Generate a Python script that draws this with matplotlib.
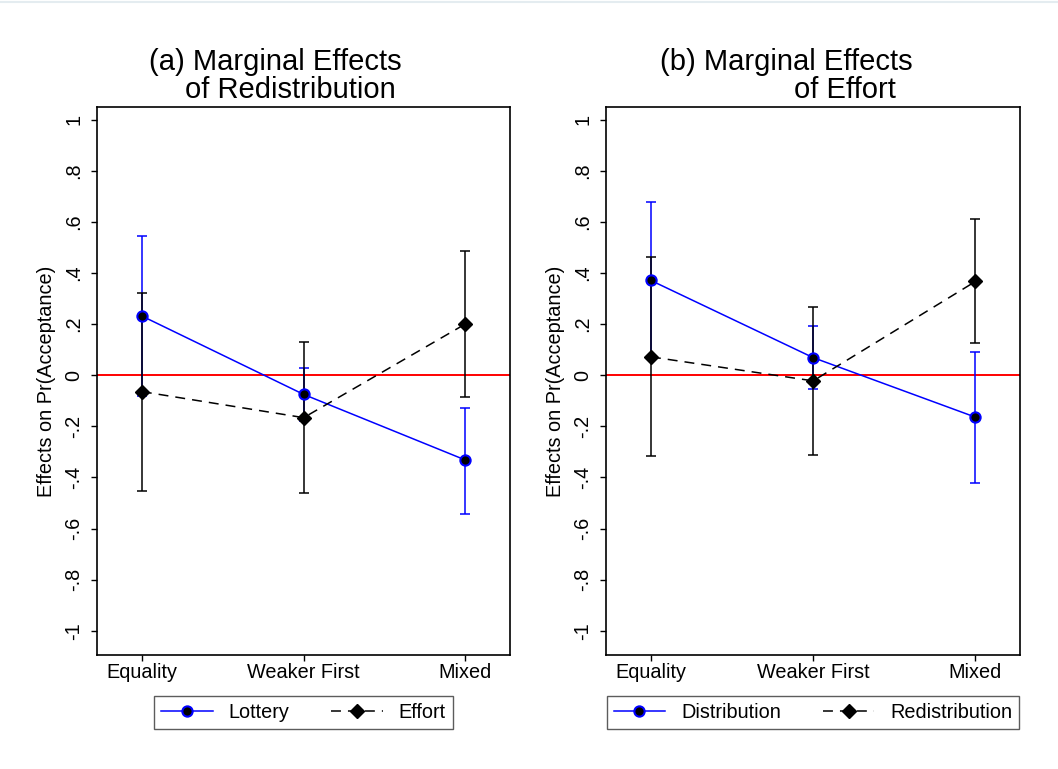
import matplotlib
matplotlib.use("Agg")
import matplotlib.pyplot as plt
from matplotlib.lines import Line2D
import numpy as np

plt.rcParams['font.family'] = ['Liberation Sans', 'DejaVu Sans']

categories = ["Equality", "Weaker First", "Mixed"]
ytick_vals = [-1, -0.8, -0.6, -0.4, -0.2, 0, 0.2, 0.4, 0.6, 0.8, 1]
ytick_labels = ["-1", "-.8", "-.6", "-.4", "-.2", "0", ".2", ".4", ".6", ".8", "1"]

# Panel (a): marginal effects of redistribution
a_lottery = [0.232, -0.075, -0.332]
a_lottery_lo = [-0.083, -0.180, -0.543]
a_lottery_hi = [0.544, 0.030, -0.127]
a_effort = [-0.064, -0.166, 0.201]
a_effort_lo = [-0.454, -0.462, -0.084]
a_effort_hi = [0.320, 0.130, 0.488]

# Panel (b): marginal effects of effort
b_distribution = [0.371, 0.069, -0.164]
b_distribution_lo = [0.062, -0.055, -0.420]
b_distribution_hi = [0.680, 0.194, 0.090]
b_redistribution = [0.072, -0.022, 0.367]
b_redistribution_lo = [-0.315, -0.311, 0.125]
b_redistribution_hi = [0.463, 0.267, 0.613]

W, H = 1058, 769
fig = plt.figure(figsize=(W / 100, H / 100), dpi=100)
fig.patch.set_facecolor('white')

# faint top border line
fig.add_artist(Line2D([0, 1], [1 - 2 / H, 1 - 2 / H], transform=fig.transFigure,
                      color='#e4ecf0', lw=1.5))

def px_axes(x0, x1, y0, y1):
    return fig.add_axes([x0 / W, 1 - y1 / H, (x1 - x0) / W, (y1 - y0) / H])

BLUE = '#0000ff'
LW = 1.1
DASH = (0, (6.5, 4.6))
FS = 14.3

def panel(ax, s1, s1lo, s1hi, s2, s2lo, s2hi, lab1, lab2):
    x = np.arange(1, len(categories) + 1)
    ax.axhline(0, color='#ff0000', lw=1.4, zorder=1)
    s1 = np.array(s1); s2 = np.array(s2)
    ax.errorbar(x, s1, yerr=[s1 - np.array(s1lo), np.array(s1hi) - s1], fmt='none',
                ecolor=BLUE, elinewidth=LW, capsize=3.8, capthick=LW, zorder=2)
    ax.errorbar(x, s2, yerr=[s2 - np.array(s2lo), np.array(s2hi) - s2], fmt='none',
                ecolor='black', elinewidth=LW, capsize=3.8, capthick=LW, zorder=3)
    ax.plot(x, s1, color=BLUE, lw=LW, marker='o', ms=7.4, mfc='black', mec=BLUE,
            mew=1.5, zorder=4)
    ax.plot(x, s2, color='black', lw=LW, ls=DASH, marker='D', ms=7.3, mfc='black',
            mec='black', zorder=5)
    ax.set_xlim(0.723, 3.275)
    ax.set_ylim(-1.095, 1.05)
    ax.set_xticks(x)
    ax.set_xticklabels(categories, fontsize=FS)
    ax.set_yticks(ytick_vals)
    ax.set_yticklabels(ytick_labels, fontsize=FS, rotation=90, va='center')
    ax.tick_params(axis='both', direction='out', length=4, width=1.0, color='black')
    ax.tick_params(axis='y', pad=6)
    ax.tick_params(axis='x', pad=1.5)
    for sp in ax.spines.values():
        sp.set_linewidth(1.2)
        sp.set_color('black')
    ax.set_ylabel("Effects on Pr(Acceptance)", fontsize=FS, labelpad=6)
    h1 = Line2D([], [], color=BLUE, lw=LW, marker='o', ms=7.4, mfc='black', mec=BLUE, mew=1.5)
    h2 = Line2D([], [], color='black', lw=LW, ls=DASH, marker='D', ms=7.3, mfc='black')
    leg = ax.legend([h1, h2], [lab1, lab2], loc='center', ncol=2,
                    bbox_to_anchor=(0.5, -0.105), bbox_transform=ax.transAxes,
                    fontsize=FS, frameon=True, fancybox=False, edgecolor='#333333',
                    handlelength=2.6, handletextpad=0.8, columnspacing=2.1,
                    borderpad=0.35, borderaxespad=0)
    leg.get_frame().set_linewidth(1.0)

ax1 = px_axes(97, 510, 107, 655)
panel(ax1, a_lottery, a_lottery_lo, a_lottery_hi, a_effort, a_effort_lo, a_effort_hi,
      "Lottery", "Effort")
ax2 = px_axes(606, 1020, 107, 655)
panel(ax2, b_distribution, b_distribution_lo, b_distribution_hi,
      b_redistribution, b_redistribution_lo, b_redistribution_hi,
      "Distribution", "Redistribution")

TFS = 21
fig.text(275 / W, 1 - 70 / H, "(a) Marginal Effects", fontsize=TFS, ha='center', va='baseline')
fig.text(290.5 / W, 1 - 98 / H, "of Redistribution", fontsize=TFS, ha='center', va='baseline')
fig.text(786.5 / W, 1 - 70 / H, "(b) Marginal Effects", fontsize=TFS, ha='center', va='baseline')
fig.text(845 / W, 1 - 98 / H, "of Effort", fontsize=TFS, ha='center', va='baseline')

fig.savefig("out.png", dpi=100, facecolor='white')
